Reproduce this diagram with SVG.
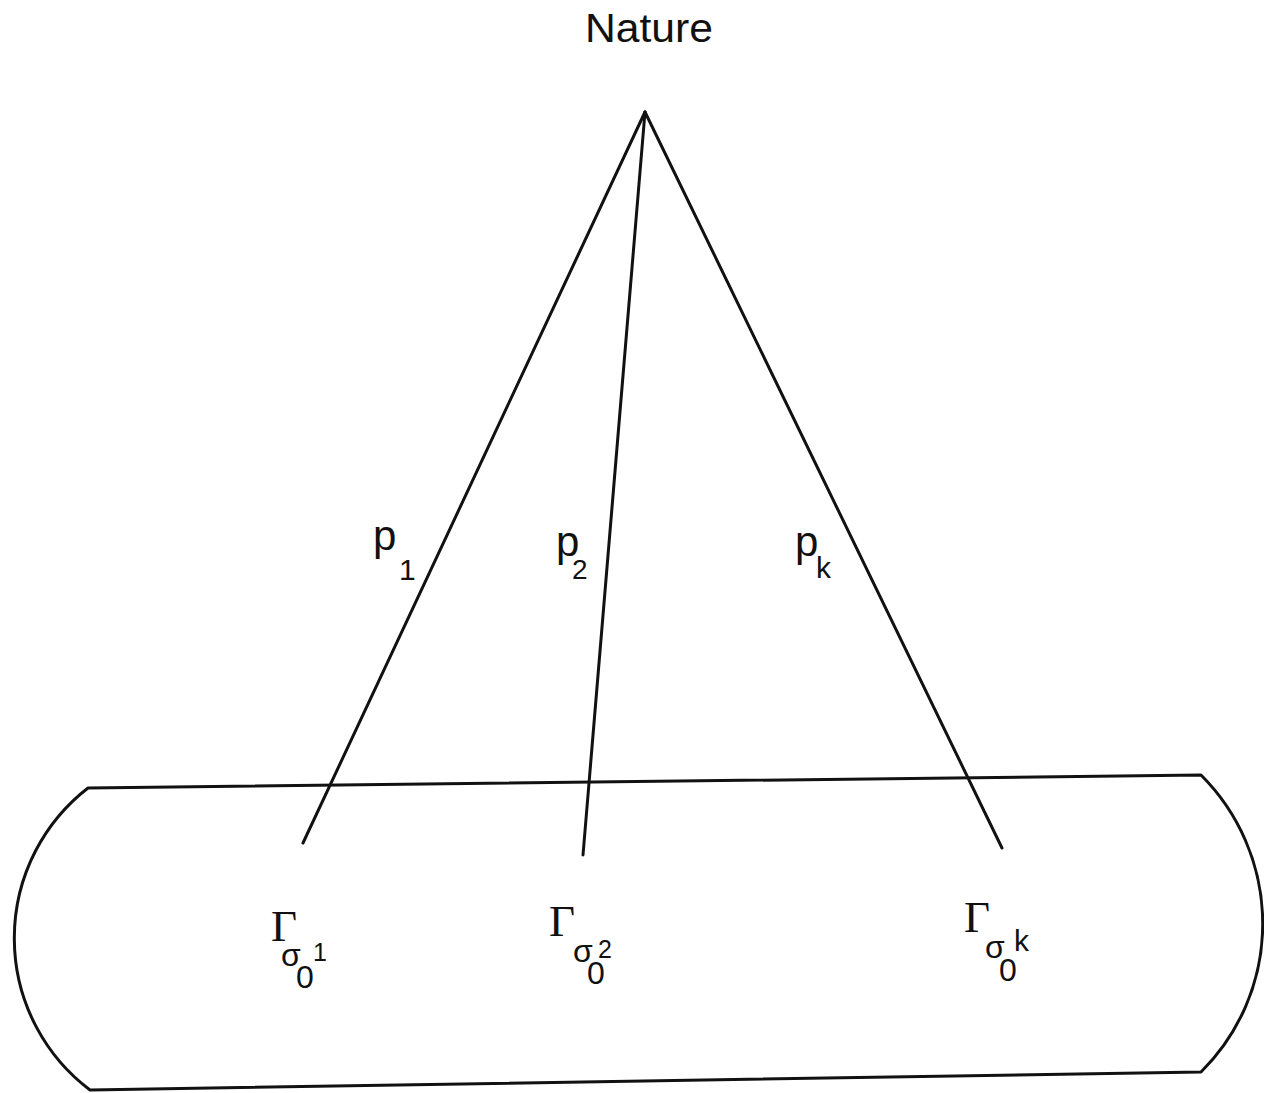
<svg xmlns="http://www.w3.org/2000/svg" width="1264" height="1093" viewBox="0 0 1264 1093">
<style>
.ln{stroke:#111;stroke-width:3;fill:none;stroke-linecap:round;stroke-linejoin:round}
.s{font-family:"Liberation Sans",Arial,sans-serif;fill:#111}
.g{font-family:"Liberation Serif","Times New Roman",serif;fill:#111}
</style>
<rect width="1264" height="1093" fill="#fff"/>
<g id="nature">
<text class="s" x="649" y="42" font-size="40" text-anchor="middle" textLength="128" lengthAdjust="spacingAndGlyphs">Nature</text>
</g>
<g id="set">
<path class="ln" d="M88,788 L1201,775 A210,210 0 0 1 1201,1072 L90,1090 A190,190 0 0 1 88,788 Z"/>
</g>
<g id="connectors">
<line class="ln" x1="645" y1="112" x2="303" y2="843"/>
<line class="ln" x1="645" y1="112" x2="583" y2="855"/>
<line class="ln" x1="645" y1="112" x2="1002" y2="848"/>
</g>
<g id="labels">
<text class="s" x="373" y="550" font-size="42">p</text>
<text class="s" x="399" y="580" font-size="30">1</text>
<text class="s" x="556" y="556" font-size="42">p</text>
<text class="s" x="572" y="579" font-size="28">2</text>
<text class="s" x="795" y="556" font-size="42">p</text>
<text class="s" x="816" y="578" font-size="30">k</text>
</g>
<g id="gamma1">
<text class="g" x="271" y="941" font-size="45">Γ</text>
<text class="s" x="281" y="966" font-size="32">σ</text>
<text class="s" x="296" y="988" font-size="32">0</text>
<text class="s" x="313" y="961" font-size="25">1</text>
</g>
<g id="gamma2">
<text class="g" x="549" y="936" font-size="45">Γ</text>
<text class="s" x="573" y="962" font-size="32">σ</text>
<text class="s" x="587" y="984" font-size="32">0</text>
<text class="s" x="598" y="958" font-size="25">2</text>
</g>
<g id="gammak">
<text class="g" x="964" y="932" font-size="45">Γ</text>
<text class="s" x="985" y="958" font-size="32">σ</text>
<text class="s" x="999" y="981" font-size="32">0</text>
<text class="s" x="1014" y="951" font-size="30">k</text>
</g>
</svg>
